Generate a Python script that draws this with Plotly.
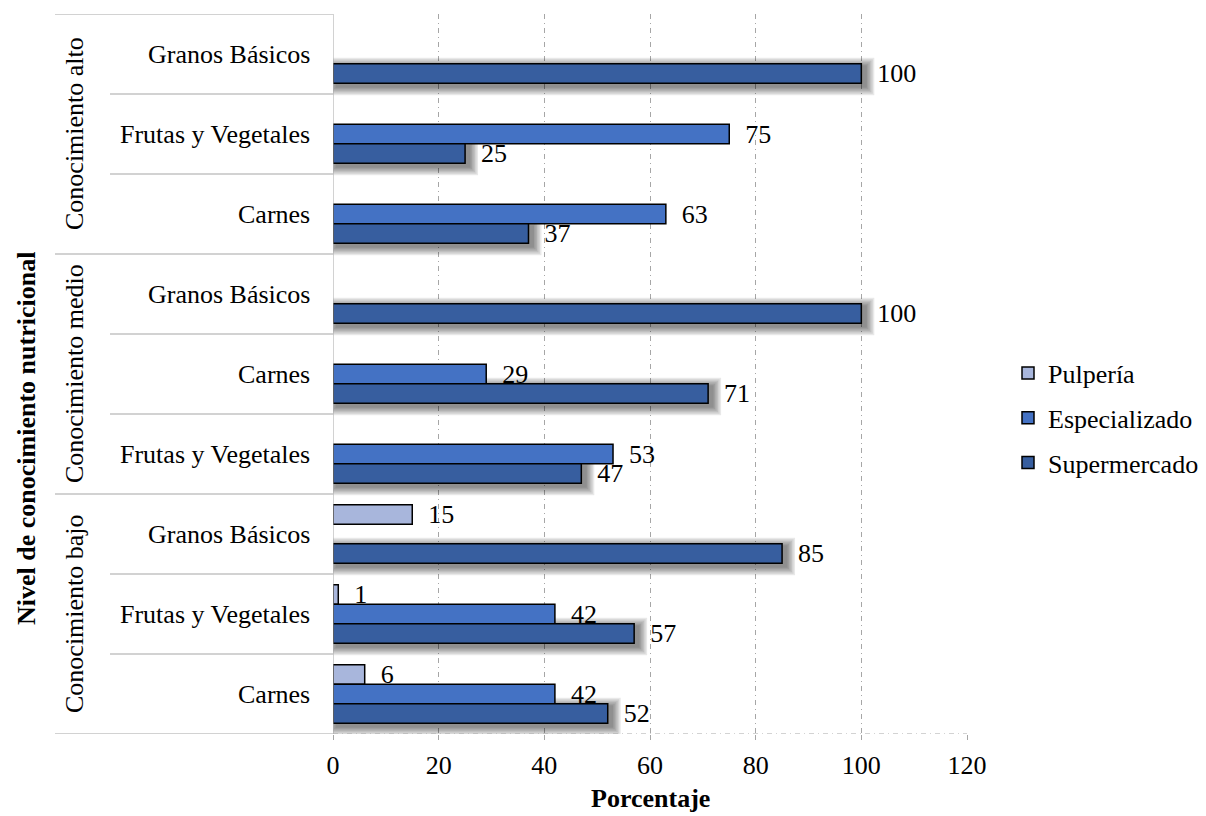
import plotly.graph_objects as go

# Categorías (de abajo hacia arriba)
niveles = ["Conocimiento bajo", "Conocimiento medio", "Conocimiento alto"]
productos = [
    "Carnes", "Frutas y Vegetales", "Granos Básicos",        # bajo
    "Frutas y Vegetales", "Carnes", "Granos Básicos",        # medio
    "Carnes", "Frutas y Vegetales", "Granos Básicos",        # alto
]

# Porcentaje por tipo de establecimiento
pulperia = [6, 1, 15, None, None, None, None, None, None]
especializado = [42, 42, None, 53, 29, None, 63, 75, None]
supermercado = [52, 57, 85, 47, 71, 100, 37, 25, 100]

x_ticks = [0, 20, 40, 60, 80, 100, 120]

# Layout geometry (pixels)
W, H = 1206, 816
ML, MR, MT, MB = 333, 239, 14, 82
PW, PH = W - ML - MR, H - MT - MB
XMAX = 120
N = len(productos)
UX = XMAX / PW          # x units per pixel
UY = N / PH             # y units per pixel

FONT = "Liberation Serif, Times New Roman, serif"
GRID = "#A6A6A6"
BW = 0.244              # bar thickness in category units

y_pos = list(range(N))

fig = go.Figure()

# soft drop shadow under the Supermercado bars (stacked translucent layers)
DX, DY = 4, 3
for k in range(6):
    e = 1.5 * (k + 1)
    sx = [None if v is None else v + 2 * e * UX for v in supermercado]
    fig.add_trace(go.Bar(
        x=sx, y=y_pos, orientation="h",
        base=(DX - e) * UX,
        offset=-1.5 * BW - (DY + e) * UY,
        width=BW + 2 * e * UY,
        marker=dict(color="rgba(0,0,0,0.09)", line=dict(width=0)),
        showlegend=False, hoverinfo="skip",
    ))


def label(vals):
    return ["" if v is None else "\u00a0\u00a0" + str(v) for v in vals]


series = [
    ("Pulpería", pulperia, "#A8B6DC", 0.5 * BW),
    ("Especializado", especializado, "#4472C4", -0.5 * BW),
    ("Supermercado", supermercado, "#375E9F", -1.5 * BW),
]
for name, vals, color, off in series:
    fig.add_trace(go.Bar(
        name=name, legendgroup=name,
        x=vals, y=y_pos, orientation="h",
        offset=off, width=BW,
        marker=dict(color=color, line=dict(color="black", width=1.5)),
        text=label(vals), textposition="outside", constraintext="none",
        cliponaxis=False,
        textfont=dict(family=FONT, size=26, color="black"),
    ))

shapes = []
# y axis line
shapes.append(dict(type="line", xref="x", yref="y", x0=0, x1=0, y0=-0.5, y1=N - 0.5,
                   line=dict(color=GRID, width=1)))
# bottom axis line (dash-dot)
shapes.append(dict(type="line", xref="x", yref="y", x0=0, x1=XMAX, y0=-0.5, y1=-0.5,
                   line=dict(color=GRID, width=1, dash="5px,4px,1px,4px")))
# dividers of the category table
for b in range(N + 1):
    yb = b - 0.5
    x0 = (55 - ML) / PW if b % 3 == 0 else (110 - ML) / PW
    shapes.append(dict(type="line", xref="paper", yref="y", x0=x0, x1=0, y0=yb, y1=yb,
                       line=dict(color=GRID, width=1.2)))

annotations = []
for i, p in enumerate(productos):
    annotations.append(dict(text=p, xref="paper", yref="y", x=0, y=i, xanchor="right",
                            yanchor="middle", xshift=-21, showarrow=False,
                            font=dict(family=FONT, size=26, color="black")))
for g, nivel in enumerate(niveles):
    annotations.append(dict(text=nivel, xref="paper", yref="y", x=0, y=3 * g + 1,
                            xanchor="center", yanchor="middle",
                            xshift=74 - ML, textangle=-90, showarrow=False,
                            font=dict(family=FONT, size=26, color="black")))
annotations.append(dict(text="<b>Nivel de conocimiento nutricional</b>", xref="paper", yref="paper",
                        x=0, xshift=26 - ML, y=(MT + PH - 439) / PH, textangle=-90,
                        xanchor="center", yanchor="middle",
                        showarrow=False, font=dict(family=FONT, size=26, color="black")))
annotations.append(dict(text="<b>Porcentaje</b>", xref="paper", yref="paper",
                        x=0.5, y=(MT + PH - 799) / PH, xanchor="center", yanchor="middle",
                        showarrow=False, font=dict(family=FONT, size=26, color="black")))

fig.update_layout(
    width=W, height=H,
    margin=dict(l=ML, r=MR, t=MT, b=MB, autoexpand=False),
    paper_bgcolor="white", plot_bgcolor="white",
    barmode="overlay",
    font=dict(family=FONT, size=26, color="black"),
    xaxis=dict(range=[0, XMAX], tickvals=x_ticks, showgrid=True, gridcolor=GRID,
               gridwidth=1, griddash="5px,4px,1px,4px", zeroline=False, showline=False,
               ticks="outside", ticklen=5, tickcolor=GRID, ticklabelstandoff=3,
               tickfont=dict(family=FONT, size=26, color="black")),
    yaxis=dict(range=[-0.5, N - 0.5], showticklabels=False, showgrid=False,
               zeroline=False, showline=False, ticks=""),
    legend=dict(x=(1008 - ML) / PW, xanchor="left", y=(MT + PH - 418) / PH, yanchor="middle",
                traceorder="grouped", tracegroupgap=8,
                font=dict(family=FONT, size=26, color="black"), bgcolor="rgba(0,0,0,0)"),
    shapes=shapes, annotations=annotations,
)

fig.write_html("out.html")
